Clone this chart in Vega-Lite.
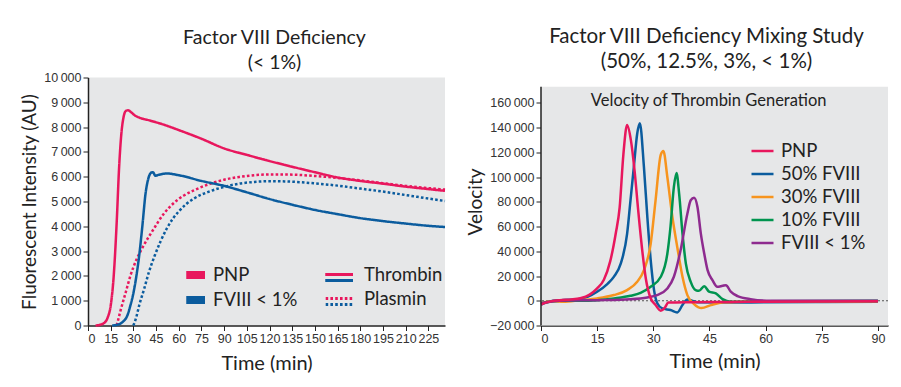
{
  "$schema": "https://vega.github.io/schema/vega-lite/v6.json",
  "padding": {"left": 20, "top": 26.5, "right": 5, "bottom": 5},
  "background": "white",
  "spacing": 16,
  "resolve": {"scale": {"color": "independent"}, "legend": {"color": "independent"}},
  "config": {
    "font": "Lato",
    "view": {"stroke": null, "fill": "#E6E7E8"},
    "axis": {"labelFont": "Liberation Sans", "labelFontSize": 12.5, "labelColor": "#333", "titleFont": "Lato", "titleFontSize": 20, "titleFontWeight": "normal", "titleColor": "#222", "domainColor": "#222", "tickColor": "#222", "grid": false, "tickSize": 5, "labelPadding": 2, "domainWidth": 1.5, "labelOverlap": false},
    "axisY": {"titleFontSize": 19},
    "title": {"font": "Lato", "fontSize": 19.5, "fontWeight": "normal", "color": "#222", "lineHeight": 25, "anchor": "middle"},
    "legend": {"labelFont": "Lato", "labelFontSize": 18.5, "labelColor": "#222", "title": null}
  },
  "hconcat": [
    {
      "width": 357,
      "height": 248,
      "title": {"text": ["Factor VIII Deficiency", "(< 1%)"], "offset": -1.5, "dx": 8, "lineHeight": 25},
      "data": {"values": [
        {"sample":"PNP","kind":"Thrombin","time":5,"value":0},
        {"sample":"PNP","kind":"Thrombin","time":8,"value":30},
        {"sample":"PNP","kind":"Thrombin","time":11,"value":120},
        {"sample":"PNP","kind":"Thrombin","time":13,"value":320},
        {"sample":"PNP","kind":"Thrombin","time":15,"value":800},
        {"sample":"PNP","kind":"Thrombin","time":17,"value":2000},
        {"sample":"PNP","kind":"Thrombin","time":19,"value":4200},
        {"sample":"PNP","kind":"Thrombin","time":20.5,"value":6300},
        {"sample":"PNP","kind":"Thrombin","time":22,"value":7700},
        {"sample":"PNP","kind":"Thrombin","time":23.5,"value":8400},
        {"sample":"PNP","kind":"Thrombin","time":25,"value":8650},
        {"sample":"PNP","kind":"Thrombin","time":26.5,"value":8680},
        {"sample":"PNP","kind":"Thrombin","time":28.5,"value":8600},
        {"sample":"PNP","kind":"Thrombin","time":31,"value":8470},
        {"sample":"PNP","kind":"Thrombin","time":34,"value":8380},
        {"sample":"PNP","kind":"Thrombin","time":40,"value":8280},
        {"sample":"PNP","kind":"Thrombin","time":50,"value":8100},
        {"sample":"PNP","kind":"Thrombin","time":60,"value":7880},
        {"sample":"PNP","kind":"Thrombin","time":75,"value":7530},
        {"sample":"PNP","kind":"Thrombin","time":90,"value":7140},
        {"sample":"PNP","kind":"Thrombin","time":105,"value":6880},
        {"sample":"PNP","kind":"Thrombin","time":120,"value":6630},
        {"sample":"PNP","kind":"Thrombin","time":135,"value":6400},
        {"sample":"PNP","kind":"Thrombin","time":150,"value":6180},
        {"sample":"PNP","kind":"Thrombin","time":165,"value":5970},
        {"sample":"PNP","kind":"Thrombin","time":180,"value":5830},
        {"sample":"PNP","kind":"Thrombin","time":195,"value":5720},
        {"sample":"PNP","kind":"Thrombin","time":210,"value":5600},
        {"sample":"PNP","kind":"Thrombin","time":225,"value":5500},
        {"sample":"PNP","kind":"Thrombin","time":236,"value":5430},
        {"sample":"PNP","kind":"Plasmin","time":19,"value":0},
        {"sample":"PNP","kind":"Plasmin","time":21.5,"value":600},
        {"sample":"PNP","kind":"Plasmin","time":25,"value":1350},
        {"sample":"PNP","kind":"Plasmin","time":28,"value":2000},
        {"sample":"PNP","kind":"Plasmin","time":32,"value":2650},
        {"sample":"PNP","kind":"Plasmin","time":37,"value":3250},
        {"sample":"PNP","kind":"Plasmin","time":43,"value":3850},
        {"sample":"PNP","kind":"Plasmin","time":50,"value":4500},
        {"sample":"PNP","kind":"Plasmin","time":56,"value":4900},
        {"sample":"PNP","kind":"Plasmin","time":63,"value":5230},
        {"sample":"PNP","kind":"Plasmin","time":70,"value":5450},
        {"sample":"PNP","kind":"Plasmin","time":80,"value":5700},
        {"sample":"PNP","kind":"Plasmin","time":90,"value":5880},
        {"sample":"PNP","kind":"Plasmin","time":100,"value":5990},
        {"sample":"PNP","kind":"Plasmin","time":110,"value":6060},
        {"sample":"PNP","kind":"Plasmin","time":120,"value":6090},
        {"sample":"PNP","kind":"Plasmin","time":130,"value":6090},
        {"sample":"PNP","kind":"Plasmin","time":140,"value":6070},
        {"sample":"PNP","kind":"Plasmin","time":150,"value":6030},
        {"sample":"PNP","kind":"Plasmin","time":165,"value":5950},
        {"sample":"PNP","kind":"Plasmin","time":180,"value":5850},
        {"sample":"PNP","kind":"Plasmin","time":195,"value":5740},
        {"sample":"PNP","kind":"Plasmin","time":210,"value":5630},
        {"sample":"PNP","kind":"Plasmin","time":225,"value":5540},
        {"sample":"PNP","kind":"Plasmin","time":236,"value":5480},
        {"sample":"FVIII < 1%","kind":"Thrombin","time":16,"value":0},
        {"sample":"FVIII < 1%","kind":"Thrombin","time":20,"value":40},
        {"sample":"FVIII < 1%","kind":"Thrombin","time":23,"value":150},
        {"sample":"FVIII < 1%","kind":"Thrombin","time":26,"value":400},
        {"sample":"FVIII < 1%","kind":"Thrombin","time":28,"value":800},
        {"sample":"FVIII < 1%","kind":"Thrombin","time":30,"value":1300},
        {"sample":"FVIII < 1%","kind":"Thrombin","time":32,"value":2000},
        {"sample":"FVIII < 1%","kind":"Thrombin","time":34,"value":2900},
        {"sample":"FVIII < 1%","kind":"Thrombin","time":36,"value":4050},
        {"sample":"FVIII < 1%","kind":"Thrombin","time":38,"value":5300},
        {"sample":"FVIII < 1%","kind":"Thrombin","time":40,"value":5950},
        {"sample":"FVIII < 1%","kind":"Thrombin","time":42,"value":6170},
        {"sample":"FVIII < 1%","kind":"Thrombin","time":43,"value":6180},
        {"sample":"FVIII < 1%","kind":"Thrombin","time":44.5,"value":6040},
        {"sample":"FVIII < 1%","kind":"Thrombin","time":47,"value":6080},
        {"sample":"FVIII < 1%","kind":"Thrombin","time":52,"value":6130},
        {"sample":"FVIII < 1%","kind":"Thrombin","time":60,"value":6060},
        {"sample":"FVIII < 1%","kind":"Thrombin","time":75,"value":5830},
        {"sample":"FVIII < 1%","kind":"Thrombin","time":90,"value":5630},
        {"sample":"FVIII < 1%","kind":"Thrombin","time":105,"value":5370},
        {"sample":"FVIII < 1%","kind":"Thrombin","time":120,"value":5100},
        {"sample":"FVIII < 1%","kind":"Thrombin","time":135,"value":4870},
        {"sample":"FVIII < 1%","kind":"Thrombin","time":150,"value":4660},
        {"sample":"FVIII < 1%","kind":"Thrombin","time":165,"value":4490},
        {"sample":"FVIII < 1%","kind":"Thrombin","time":180,"value":4330},
        {"sample":"FVIII < 1%","kind":"Thrombin","time":195,"value":4210},
        {"sample":"FVIII < 1%","kind":"Thrombin","time":210,"value":4110},
        {"sample":"FVIII < 1%","kind":"Thrombin","time":225,"value":4020},
        {"sample":"FVIII < 1%","kind":"Thrombin","time":236,"value":3970},
        {"sample":"FVIII < 1%","kind":"Plasmin","time":30,"value":0},
        {"sample":"FVIII < 1%","kind":"Plasmin","time":32,"value":350},
        {"sample":"FVIII < 1%","kind":"Plasmin","time":34,"value":850},
        {"sample":"FVIII < 1%","kind":"Plasmin","time":37,"value":1450},
        {"sample":"FVIII < 1%","kind":"Plasmin","time":40,"value":2100},
        {"sample":"FVIII < 1%","kind":"Plasmin","time":44,"value":2800},
        {"sample":"FVIII < 1%","kind":"Plasmin","time":48,"value":3400},
        {"sample":"FVIII < 1%","kind":"Plasmin","time":52,"value":3900},
        {"sample":"FVIII < 1%","kind":"Plasmin","time":56,"value":4300},
        {"sample":"FVIII < 1%","kind":"Plasmin","time":60,"value":4600},
        {"sample":"FVIII < 1%","kind":"Plasmin","time":65,"value":4900},
        {"sample":"FVIII < 1%","kind":"Plasmin","time":70,"value":5120},
        {"sample":"FVIII < 1%","kind":"Plasmin","time":80,"value":5400},
        {"sample":"FVIII < 1%","kind":"Plasmin","time":90,"value":5590},
        {"sample":"FVIII < 1%","kind":"Plasmin","time":100,"value":5720},
        {"sample":"FVIII < 1%","kind":"Plasmin","time":110,"value":5790},
        {"sample":"FVIII < 1%","kind":"Plasmin","time":120,"value":5820},
        {"sample":"FVIII < 1%","kind":"Plasmin","time":130,"value":5810},
        {"sample":"FVIII < 1%","kind":"Plasmin","time":140,"value":5780},
        {"sample":"FVIII < 1%","kind":"Plasmin","time":150,"value":5730},
        {"sample":"FVIII < 1%","kind":"Plasmin","time":165,"value":5640},
        {"sample":"FVIII < 1%","kind":"Plasmin","time":180,"value":5520},
        {"sample":"FVIII < 1%","kind":"Plasmin","time":195,"value":5400},
        {"sample":"FVIII < 1%","kind":"Plasmin","time":210,"value":5260},
        {"sample":"FVIII < 1%","kind":"Plasmin","time":225,"value":5120},
        {"sample":"FVIII < 1%","kind":"Plasmin","time":236,"value":5020}
      ]},
      "encoding": {
        "x": {"field": "time", "type": "quantitative", "title": "Time (min)", "scale": {"domain": [0, 236], "nice": false, "zero": false}, "axis": {"values": [0,15,30,45,60,75,90,105,120,135,150,165,180,195,210,225], "titlePadding": 8}},
        "y": {"field": "value", "type": "quantitative", "title": "Fluorescent Intensity (AU)", "scale": {"domain": [0, 10000], "nice": false}, "axis": {"values": [0,1000,2000,3000,4000,5000,6000,7000,8000,9000,10000], "labelExpr": "replace(format(datum.value, ','), ',', '\u2009')", "titlePadding": 4}}
      },
      "layer": [
        {
          "transform": [{"filter": "datum.sample === 'PNP'"}],
          "mark": {"type": "line", "strokeWidth": 2.5, "interpolate": "monotone", "strokeCap": "butt"},
          "encoding": {
            "color": {"field": "sample", "type": "nominal", "scale": {"domain": ["PNP", "FVIII < 1%"], "range": ["#E8175D", "#0B5C9E"]},
              "legend": {"orient": "none", "legendX": 98.25, "legendY": 187.9, "symbolType": "M-4.75,0H4.75", "symbolSize": 16, "symbolStrokeWidth": 8, "clipHeight": 19, "rowPadding": 6, "labelOffset": 8.25}},
            "strokeDash": {"field": "kind", "type": "nominal", "scale": {"domain": ["Thrombin", "Plasmin"], "range": [[1, 0], [2.6, 2.2]]},
              "legend": {"orient": "none", "legendX": 237.25, "legendY": 187.5, "symbolType": "M-9.25,0H9.25", "symbolSize": 16, "symbolStrokeWidth": 3, "symbolStrokeColor": "#E8175D", "clipHeight": 19, "rowPadding": 5, "labelOffset": 20.25, "encode": {"symbols": {"update": {"stroke": {"value": "#E8175D"}, "strokeWidth": {"value": 3}}}}}}
          }
        },
        {
          "transform": [{"filter": "datum.sample !== 'PNP'"}],
          "mark": {"type": "line", "strokeWidth": 2.5, "interpolate": "monotone", "strokeCap": "butt"},
          "encoding": {
            "color": {"field": "sample", "type": "nominal", "scale": {"domain": ["PNP", "FVIII < 1%"], "range": ["#E8175D", "#0B5C9E"]}, "legend": null},
            "strokeDash": {"field": "kind", "type": "nominal", "scale": {"domain": ["Thrombin", "Plasmin"], "range": [[1, 0], [2.6, 2.2]]},
              "legend": {"orient": "none", "legendX": 237.25, "legendY": 193.5, "symbolType": "M-9.25,0H9.25", "symbolSize": 16, "symbolStrokeWidth": 3, "symbolStrokeColor": "#0B5C9E", "clipHeight": 19, "rowPadding": 5, "labelOffset": 20.25, "labelOpacity": 0, "encode": {"symbols": {"update": {"stroke": {"value": "#0B5C9E"}, "strokeWidth": {"value": 3}}}}}}
          }
        }
      ],
      "resolve": {"scale": {"strokeDash": "independent"}, "legend": {"strokeDash": "independent", "color": "independent"}}
    },
    {
      "width": 347,
      "height": 248,
      "view": {"fill": "white", "stroke": null},
      "title": {"text": ["Factor VIII Deficiency Mixing Study", "(50%, 12.5%, 3%, < 1%)"], "offset": 5.5, "dx": -8, "fontSize": 20.5, "lineHeight": 25},
      "layer": [
        {
          "data": {"values": [{"panel": "plot area"}]},
          "mark": {"type": "rect", "color": "#E6E7E8"},
          "encoding": {
            "x": {"datum": 0, "title": "Time (min)", "axis": {"values": [0,15,30,45,60,75,90], "titlePadding": 6}},
            "x2": {"datum": 92.7},
            "y": {"datum": -20000, "title": "Velocity", "axis": {"values": [-20000,0,20000,40000,60000,80000,100000,120000,140000,160000], "labelExpr": "replace(format(datum.value, ','), ',', '\u2009')", "titlePadding": 4, "labelOverlap": false, "domain": false}},
            "y2": {"datum": 173000}
          }
        },
        {
          "data": {"values": [{"ref": 0}]},
          "mark": {"type": "rule", "color": "#555", "strokeDash": [2, 2], "strokeWidth": 1},
          "encoding": {"y": {"field": "ref", "type": "quantitative", "title": "Velocity", "axis": {"values": [-20000,0,20000,40000,60000,80000,100000,120000,140000,160000], "labelExpr": "replace(format(datum.value, ','), ',', '\u2009')", "titlePadding": 4, "labelOverlap": false, "domain": false}}}
        },
        {
          "data": {"values": [
            {"series":"50% FVIII","time":0,"value":-3000},{"series":"50% FVIII","time":2.5,"value":-500},{"series":"50% FVIII","time":5,"value":300},{"series":"50% FVIII","time":10.5,"value":1500},{"series":"50% FVIII","time":15,"value":7300},{"series":"50% FVIII","time":17.7,"value":13500},{"series":"50% FVIII","time":19.5,"value":19500},{"series":"50% FVIII","time":21.3,"value":30000},{"series":"50% FVIII","time":23,"value":54000},{"series":"50% FVIII","time":23.9,"value":81000},{"series":"50% FVIII","time":24.8,"value":108000},{"series":"50% FVIII","time":25.7,"value":135000},{"series":"50% FVIII","time":26.4,"value":143500},{"series":"50% FVIII","time":27.5,"value":108000},{"series":"50% FVIII","time":28.4,"value":68000},{"series":"50% FVIII","time":29.3,"value":33000},{"series":"50% FVIII","time":30.2,"value":8600},{"series":"50% FVIII","time":31.1,"value":-2200},{"series":"50% FVIII","time":32.4,"value":-6200},{"series":"50% FVIII","time":34.6,"value":-7500},{"series":"50% FVIII","time":36.4,"value":-9400},{"series":"50% FVIII","time":37.8,"value":-3500},{"series":"50% FVIII","time":39.1,"value":1100},{"series":"50% FVIII","time":40,"value":500},{"series":"50% FVIII","time":41.8,"value":-1300},{"series":"50% FVIII","time":50,"value":-1500},{"series":"50% FVIII","time":60,"value":-1200},{"series":"50% FVIII","time":75,"value":-1000},{"series":"50% FVIII","time":90,"value":-800},
            {"series":"30% FVIII","time":0,"value":-2000},{"series":"30% FVIII","time":3,"value":-500},{"series":"30% FVIII","time":6,"value":-800},{"series":"30% FVIII","time":10.5,"value":500},{"series":"30% FVIII","time":15,"value":1900},{"series":"30% FVIII","time":19.5,"value":4600},{"series":"30% FVIII","time":23,"value":8600},{"series":"30% FVIII","time":25.7,"value":15300},{"series":"30% FVIII","time":27.5,"value":24700},{"series":"30% FVIII","time":29.3,"value":46000},{"series":"30% FVIII","time":30.6,"value":81000},{"series":"30% FVIII","time":32,"value":118000},{"series":"30% FVIII","time":32.7,"value":121000},{"series":"30% FVIII","time":33.75,"value":100000},{"series":"30% FVIII","time":35.1,"value":67700},{"series":"30% FVIII","time":36.4,"value":43500},{"series":"30% FVIII","time":37.8,"value":19400},{"series":"30% FVIII","time":39.1,"value":4600},{"series":"30% FVIII","time":40.9,"value":-2700},{"series":"30% FVIII","time":42.9,"value":-5900},{"series":"30% FVIII","time":45.4,"value":-3500},{"series":"30% FVIII","time":48.9,"value":-1300},{"series":"30% FVIII","time":55,"value":-800},{"series":"30% FVIII","time":70,"value":-600},{"series":"30% FVIII","time":90,"value":-500},
            {"series":"10% FVIII","time":0,"value":-2000},{"series":"10% FVIII","time":5,"value":0},{"series":"10% FVIII","time":10.5,"value":0},{"series":"10% FVIII","time":15,"value":500},{"series":"10% FVIII","time":19.5,"value":1900},{"series":"10% FVIII","time":23.9,"value":4000},{"series":"10% FVIII","time":26.6,"value":6400},{"series":"10% FVIII","time":29.3,"value":11300},{"series":"10% FVIII","time":32,"value":19400},{"series":"10% FVIII","time":33.75,"value":38000},{"series":"10% FVIII","time":34.6,"value":60000},{"series":"10% FVIII","time":35.5,"value":92000},{"series":"10% FVIII","time":36.2,"value":103200},{"series":"10% FVIII","time":36.9,"value":86600},{"series":"10% FVIII","time":37.8,"value":54300},{"series":"10% FVIII","time":38.7,"value":30000},{"series":"10% FVIII","time":40,"value":15300},{"series":"10% FVIII","time":41.3,"value":8600},{"series":"10% FVIII","time":42.2,"value":8000},{"series":"10% FVIII","time":43.6,"value":11800},{"series":"10% FVIII","time":44.9,"value":7300},{"series":"10% FVIII","time":46.7,"value":5900},{"series":"10% FVIII","time":48.5,"value":1300},{"series":"10% FVIII","time":50.7,"value":-800},{"series":"10% FVIII","time":60,"value":-300},{"series":"10% FVIII","time":90,"value":0},
            {"series":"FVIII < 1%","time":0,"value":-2000},{"series":"FVIII < 1%","time":5,"value":0},{"series":"FVIII < 1%","time":15,"value":500},{"series":"FVIII < 1%","time":23.9,"value":1300},{"series":"FVIII < 1%","time":28.4,"value":2700},{"series":"FVIII < 1%","time":31,"value":4600},{"series":"FVIII < 1%","time":33.75,"value":9900},{"series":"FVIII < 1%","time":35.5,"value":19400},{"series":"FVIII < 1%","time":37.3,"value":41000},{"series":"FVIII < 1%","time":39.1,"value":70400},{"series":"FVIII < 1%","time":40,"value":81200},{"series":"FVIII < 1%","time":40.9,"value":83300},{"series":"FVIII < 1%","time":41.8,"value":75800},{"series":"FVIII < 1%","time":42.7,"value":54300},{"series":"FVIII < 1%","time":43.6,"value":38200},{"series":"FVIII < 1%","time":44.5,"value":24700},{"series":"FVIII < 1%","time":45.8,"value":16700},{"series":"FVIII < 1%","time":47.1,"value":11300},{"series":"FVIII < 1%","time":48.5,"value":12100},{"series":"FVIII < 1%","time":49.4,"value":12600},{"series":"FVIII < 1%","time":50.7,"value":7300},{"series":"FVIII < 1%","time":52.5,"value":3800},{"series":"FVIII < 1%","time":56,"value":1300},{"series":"FVIII < 1%","time":61.4,"value":0},{"series":"FVIII < 1%","time":90,"value":0},
            {"series":"PNP","time":0,"value":-3000},{"series":"PNP","time":2.5,"value":-500},{"series":"PNP","time":5,"value":500},{"series":"PNP","time":8,"value":1000},{"series":"PNP","time":10.5,"value":2000},{"series":"PNP","time":13,"value":5000},{"series":"PNP","time":15,"value":10000},{"series":"PNP","time":16.8,"value":17000},{"series":"PNP","time":18.5,"value":32000},{"series":"PNP","time":20,"value":55000},{"series":"PNP","time":21,"value":75000},{"series":"PNP","time":22,"value":118000},{"series":"PNP","time":23,"value":142000},{"series":"PNP","time":24,"value":130000},{"series":"PNP","time":25,"value":105000},{"series":"PNP","time":26,"value":72000},{"series":"PNP","time":27,"value":42000},{"series":"PNP","time":28,"value":18000},{"series":"PNP","time":29.3,"value":2000},{"series":"PNP","time":30.5,"value":-3000},{"series":"PNP","time":32,"value":-8000},{"series":"PNP","time":33,"value":-6000},{"series":"PNP","time":34,"value":-1500},{"series":"PNP","time":40,"value":-1200},{"series":"PNP","time":50,"value":-1000},{"series":"PNP","time":60,"value":-800},{"series":"PNP","time":75,"value":-600},{"series":"PNP","time":90,"value":-500}
          ]},
          "mark": {"type": "line", "strokeWidth": 2.5, "interpolate": "monotone"},
          "encoding": {
            "x": {"field": "time", "type": "quantitative", "title": "Time (min)", "scale": {"domain": [0, 92.7], "nice": false, "zero": false}, "axis": {"values": [0,15,30,45,60,75,90], "titlePadding": 6}},
            "y": {"field": "value", "type": "quantitative", "title": "Velocity", "scale": {"domain": [-20000, 180450], "nice": false, "zero": false}, "axis": {"values": [-20000,0,20000,40000,60000,80000,100000,120000,140000,160000], "labelExpr": "replace(format(datum.value, ','), ',', '\u2009')", "titlePadding": 4, "labelOverlap": false, "domain": false}},
            "color": {"field": "series", "type": "nominal", "scale": {"domain": ["PNP", "50% FVIII", "30% FVIII", "10% FVIII", "FVIII < 1%"], "range": ["#E8175D", "#0B5C9E", "#F7941E", "#00944F", "#8E2B8F"]},
              "legend": {"orient": "none", "legendX": 209, "legendY": 61, "symbolType": "stroke", "symbolSize": 484, "symbolStrokeWidth": 2.5, "rowPadding": 1, "labelOffset": 6}}
          }
        },
        {
          "data": {"values": [{"note": "Velocity of Thrombin Generation", "noteTime": 44.8, "noteValue": 161800}]},
          "mark": {"type": "text", "font": "Lato", "fontSize": 16.5, "color": "#222", "baseline": "middle", "align": "center"},
          "encoding": {
            "x": {"field": "noteTime", "type": "quantitative", "title": "Time (min)", "axis": {"values": [0,15,30,45,60,75,90], "titlePadding": 6}},
            "y": {"field": "noteValue", "type": "quantitative", "title": "Velocity", "axis": {"values": [-20000,0,20000,40000,60000,80000,100000,120000,140000,160000], "labelExpr": "replace(format(datum.value, ','), ',', '\u2009')", "titlePadding": 4, "labelOverlap": false, "domain": false}},
            "text": {"field": "note", "type": "nominal"}
          }
        },
        {
          "data": {"values": [{"panel": "y axis line"}]},
          "mark": {"type": "rule", "color": "#222", "strokeWidth": 1.5},
          "encoding": {
            "x": {"datum": 0, "title": "Time (min)", "axis": {"values": [0,15,30,45,60,75,90], "titlePadding": 6}},
            "y": {"datum": -20000, "title": "Velocity", "axis": {"values": [-20000,0,20000,40000,60000,80000,100000,120000,140000,160000], "labelExpr": "replace(format(datum.value, ','), ',', '\u2009')", "titlePadding": 4, "labelOverlap": false, "domain": false}},
            "y2": {"datum": 173000}
          }
        }
      ]
    }
  ]
}
